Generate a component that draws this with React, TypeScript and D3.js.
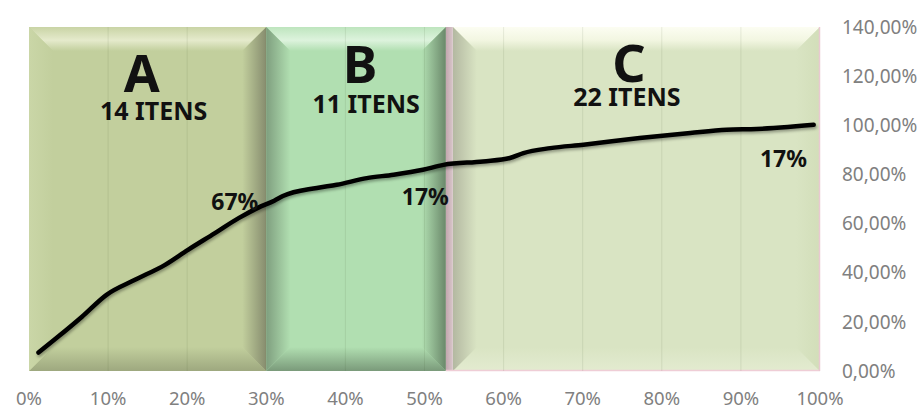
import React from "react";
import * as d3 from "d3";

// Cumulative share of items (%) along the Pareto curve
const itemShare = [1.2, 3.7, 6.7, 9.8, 13.4, 17.2, 20.1, 23.5, 26.5, 29.0, 31.0, 32.1, 36.4, 38.9, 42.7, 46.1, 49.8, 52.4, 57.4, 60.8, 62.5, 65.9, 70.1, 77.2, 83.6, 88.2, 92.0, 99.2];
// Cumulative share of value (%) at each point
const valueShare = [7.5, 14.0, 22.1, 31.0, 37.1, 43.2, 49.3, 56.1, 62.2, 66.5, 69.3, 71.2, 74.5, 75.8, 78.5, 79.9, 81.9, 83.9, 85.3, 86.7, 88.7, 90.7, 92.1, 94.8, 96.9, 98.2, 98.5, 100.2];

// ABC classes
const zoneNames = ["A", "B", "C"];
const zoneItems = [14, 11, 22];
const zoneBounds = [0, 30, 52.7, 100];
const zoneShareLabels = ["67%", "17%", "17%"];
const zoneTop = 140;

// Axis ticks
const xTicks = [0, 10, 20, 30, 40, 50, 60, 70, 80, 90, 100];
const yTicks = [0, 20, 40, 60, 80, 100, 120, 140];

const W = 924;
const H = 412;
const M = { left: 29, right: 820, top: 27, bottom: 371 };
const BEVEL = 24;

const palettes = [
  { fill: "#c2cf9d", top: "#c9d4a5", hi: "#e5eacc", left: "#cad6a7", right: "#868c6e", bottom: "#9ea87f", stripe: null },
  { fill: "#b1dfb1", top: "#bee5be", hi: "#ddf3dd", left: "#7f9f7f", right: "#6a886a", bottom: "#7a9a7a", stripe: null },
  { fill: "#d9e4c3", top: "#fcfdf2", hi: "#f2f6e1", left: "#b3b8a1", right: "#d2deb9", bottom: "#e3ebd0", stripe: "#c2a6ae" },
];

// Text placement per class (relative to the class centre / right edge)
const textLayout = [
  { letterDx: -6, letterY: 92, itensDx: 6, itensY: 120, valueDx: -8, valueY: 210 },
  { letterDx: 4, letterY: 83, itensDx: 10, itensY: 113, valueDx: 3, valueY: 205 },
  { letterDx: -4, letterY: 82, itensDx: -6, itensY: 106, valueDx: -13, valueY: 167 },
];

const ptLocale = d3.formatLocale({ decimal: ",", thousands: ".", grouping: [3], currency: ["R$", ""] });
const fmtY = ptLocale.format(".2%");
const fmtX = ptLocale.format(".0%");

const FONT = "'Noto Sans', 'Open Sans', sans-serif";

function BevelBox({ id, x0, x1, y0, y1, p }) {
  const w = BEVEL;
  const bx0 = p.stripe ? x0 + 7 : x0;
  const g = (name) => `url(#${id}-${name})`;
  return (
    <g>
      <defs>
        <linearGradient id={`${id}-top`} x1="0" y1="0" x2="0" y2="1">
          <stop offset="0" stopColor={p.top} />
          <stop offset="0.55" stopColor={p.hi} />
          <stop offset="1" stopColor={p.fill} />
        </linearGradient>
        <linearGradient id={`${id}-bottom`} x1="0" y1="1" x2="0" y2="0">
          <stop offset="0" stopColor={p.bottom} />
          <stop offset="1" stopColor={p.fill} />
        </linearGradient>
        <linearGradient id={`${id}-left`} x1="0" y1="0" x2="1" y2="0">
          <stop offset="0" stopColor={p.left} />
          <stop offset="1" stopColor={p.fill} />
        </linearGradient>
        <linearGradient id={`${id}-right`} x1="1" y1="0" x2="0" y2="0">
          <stop offset="0" stopColor={p.right} />
          <stop offset="1" stopColor={p.fill} />
        </linearGradient>
        {p.stripe && (
          <linearGradient id={`${id}-stripe`} x1="0" y1="0" x2="1" y2="0">
            <stop offset="0" stopColor={p.stripe} />
            <stop offset="1" stopColor="#d8c6ca" />
          </linearGradient>
        )}
      </defs>
      <rect x={bx0} y={y0} width={x1 - bx0} height={y1 - y0} fill={p.fill} />
      <polygon points={`${bx0},${y0} ${x1},${y0} ${x1 - w},${y0 + w} ${bx0 + w},${y0 + w}`} fill={g("top")} />
      <polygon points={`${bx0},${y1} ${x1},${y1} ${x1 - w},${y1 - w} ${bx0 + w},${y1 - w}`} fill={g("bottom")} />
      <polygon points={`${bx0},${y0} ${bx0 + w},${y0 + w} ${bx0 + w},${y1 - w} ${bx0},${y1}`} fill={g("left")} />
      <polygon points={`${x1},${y0} ${x1 - w},${y0 + w} ${x1 - w},${y1 - w} ${x1},${y1}`} fill={g("right")} />
      {p.stripe && (
        <>
          <rect x={x0} y={y0} width={7} height={y1 - y0} fill={g("stripe")} />
          <line x1={x0} x2={x1} y1={y1 - 0.5} y2={y1 - 0.5} stroke="#efcdd6" strokeWidth={1.5} />
          <line x1={x1 - 0.5} x2={x1 - 0.5} y1={y0} y2={y1} stroke="#e9c9d1" strokeWidth={1.5} />
        </>
      )}
    </g>
  );
}

export default function App() {
  const x = d3.scaleLinear().domain([0, 100]).range([M.left, M.right]);
  const y = d3.scaleLinear().domain([0, 1.4]).range([M.bottom, M.top]);

  const pts = itemShare.map((v, i) => [v, valueShare[i] / 100]);
  const line = d3
    .line()
    .x((d) => x(d[0]))
    .y((d) => y(d[1]))
    .curve(d3.curveMonotoneX);

  return (
    <svg width={W} height={H} style={{ position: "absolute", left: 0, top: 0, background: "#fff" }} fontFamily={FONT}>
      <defs>
        <filter id="lineShadow" x="-5%" y="-20%" width="110%" height="140%">
          <feDropShadow dx="1" dy="2" stdDeviation="1.5" floodColor="#000" floodOpacity="0.35" />
        </filter>
      </defs>

      {zoneNames.map((n, i) => (
        <BevelBox
          key={n}
          id={`zone-${n}`}
          x0={x(zoneBounds[i])}
          x1={x(zoneBounds[i + 1])}
          y0={y(zoneTop / 100)}
          y1={y(0)}
          p={palettes[i]}
        />
      ))}

      {/* vertical gridlines */}
      {xTicks.slice(1, -1).map((t) => (
        <line key={t} x1={x(t)} x2={x(t)} y1={y(1.4)} y2={y(0)} stroke="#3c5028" strokeOpacity={0.1} strokeWidth={1} />
      ))}

      {/* class headings */}
      {zoneNames.map((n, i) => {
        const cx = (x(zoneBounds[i]) + x(zoneBounds[i + 1])) / 2;
        const L = textLayout[i];
        return (
          <g key={n} fill="#111" fontWeight={700} textAnchor="middle">
            <text x={cx + L.letterDx} y={L.letterY} fontSize={52}>{n}</text>
            <text x={cx + L.itensDx} y={L.itensY} fontSize={25}>{`${zoneItems[i]} ITENS`}</text>
          </g>
        );
      })}

      {/* Pareto curve */}
      <path d={line(pts)} fill="none" stroke="#000" strokeWidth={4.5} strokeLinecap="round" strokeLinejoin="round" filter="url(#lineShadow)" />

      {/* share labels */}
      {zoneShareLabels.map((s, i) => (
        <text
          key={i}
          x={x(zoneBounds[i + 1]) + textLayout[i].valueDx}
          y={textLayout[i].valueY}
          textAnchor="end"
          fontSize={23}
          fontWeight={700}
          fill="#111"
        >
          {s}
        </text>
      ))}

      {/* x axis labels */}
      {xTicks.map((t) => (
        <text key={t} x={x(t)} y={405} textAnchor="middle" fontSize={18.5} fill="#808080">
          {fmtX(t / 100)}
        </text>
      ))}

      {/* y axis labels */}
      {yTicks.map((t) => (
        <text key={t} x={842} y={y(t / 100)} dy="0.35em" textAnchor="start" fontSize={19} fill="#808080">
          {fmtY(t / 100)}
        </text>
      ))}
    </svg>
  );
}
